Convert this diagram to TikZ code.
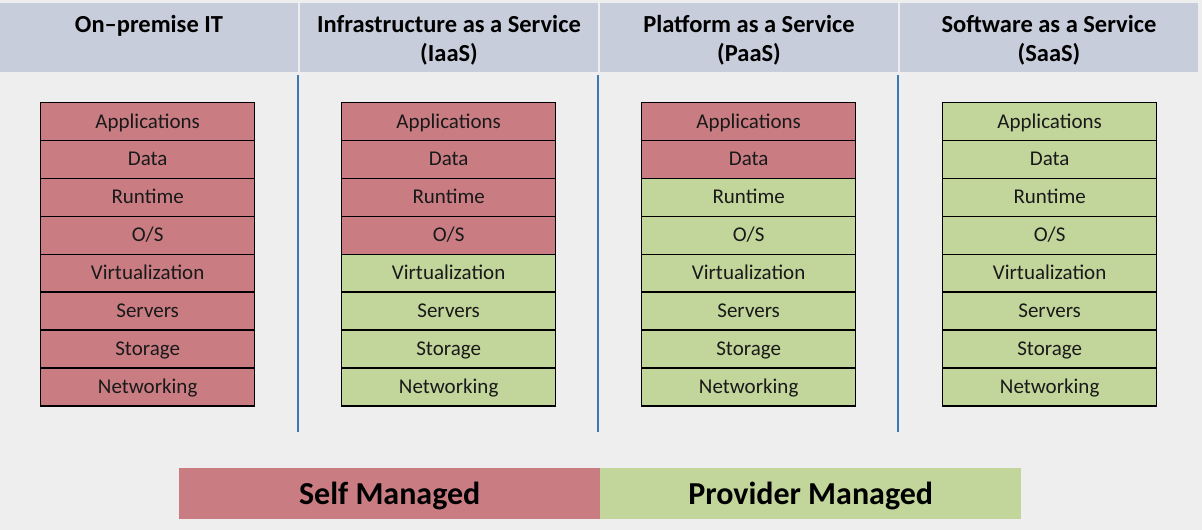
\documentclass[tikz,border=0pt]{standalone}
\usepackage{fontspec}
\setmainfont{Carlito}
\begin{document}
\begin{tikzpicture}[x=1bp,y=-1bp,
  selfc/.style={fill=selfred},
  provc/.style={fill=provgreen},
  layer/.style={draw=black,line width=1.3bp,minimum width=214bp,minimum height=37.9bp,inner sep=0pt,anchor=north west,font=\fontsize{21bp}{24bp}\selectfont,text=black!90,text depth=0pt,text height=13bp},
  headbox/.style={fill=headblue,draw=none,minimum width=298bp,minimum height=69bp,anchor=north west,inner sep=0pt},
  headtxt/.style={inner sep=0pt,align=center,font=\bfseries\fontsize{24.5bp}{29bp}\selectfont},
  sep/.style={draw=sepblue,line width=2.2bp},
  legend/.style={minimum width=421bp,minimum height=51bp,inner sep=0pt,anchor=north west,font=\bfseries\fontsize{32bp}{34bp}\selectfont,text depth=0pt,text height=21bp}
]
\definecolor{bg}{HTML}{EEEEEF}
\definecolor{headblue}{HTML}{C8CDDC}
\definecolor{selfred}{HTML}{C97D83}
\definecolor{provgreen}{HTML}{C2D59A}
\definecolor{sepblue}{HTML}{3A78B8}
\fill[bg] (0,0) rectangle (1202,530);
\useasboundingbox (0,0) rectangle (1202,530);
% headers
\node[headbox] (h1) at (0,3) {};
\node[headbox] (h2) at (300,3) {};
\node[headbox] (h3) at (600,3) {};
\node[headbox] (h4) at (900,3) {};
\node[headtxt] (t1) at (149,25.5) {On--premise IT};
\node[headtxt] (t2) at (449,40) {Infrastructure as a Service\\(IaaS)};
\node[headtxt] (t3) at (749,40) {Platform as a Service\\(PaaS)};
\node[headtxt] (t4) at (1049,40) {Software as a Service\\(SaaS)};
% separators
\coordinate (s1t) at (298,75); \coordinate (s1b) at (298,432);
\coordinate (s2t) at (598,75); \coordinate (s2b) at (598,432);
\coordinate (s3t) at (898,75); \coordinate (s3b) at (898,432);
\draw[sep] (s1t) -- (s1b);
\draw[sep] (s2t) -- (s2b);
\draw[sep] (s3t) -- (s3b);
% stacks
\def\rowh{37.9}
\foreach \col/\x/\nself in {1/40/8,2/341/4,3/641/2,4/942/0}{
  \foreach \lab [count=\i from 0] in {Applications,Data,Runtime,O/S,Virtualization,Servers,Storage,Networking}{
    \pgfmathtruncatemacro{\isself}{\i<\nself ? 1 : 0}
    \ifnum\isself=1
      \node[layer,selfc] (c\col r\i) at (\x,102+\i*\rowh) {\lab};
    \else
      \node[layer,provc] (c\col r\i) at (\x,102+\i*\rowh) {\lab};
    \fi
  }
}
% legend
\node[legend,fill=selfred] (self) at (179,468) {Self Managed};
\node[legend,fill=provgreen] (prov) at (600,468) {Provider Managed};
\end{tikzpicture}
\end{document}
